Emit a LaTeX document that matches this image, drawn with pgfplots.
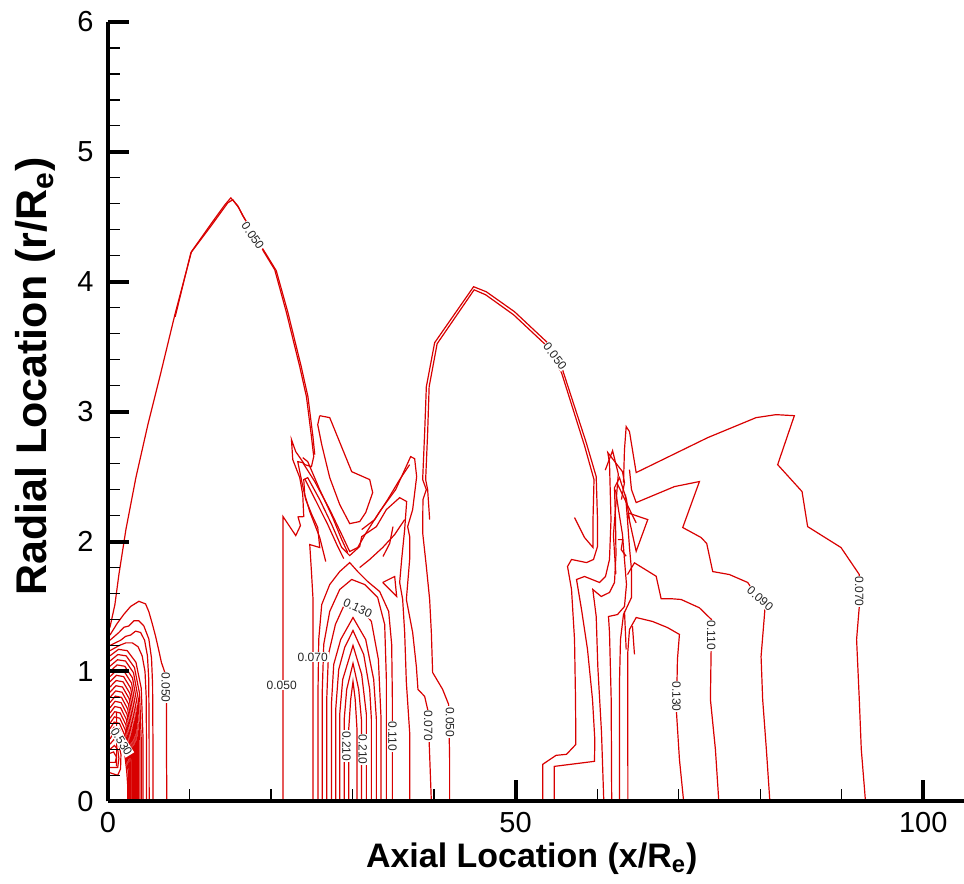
\documentclass[border=0pt]{standalone}
\usepackage{pgfplots}
\pgfplotsset{compat=1.18}
\usepackage{fontspec}
\setmainfont{Liberation Sans}
\definecolor{cred}{RGB}{216,0,0}
\tikzset{cl/.style={cred, line width=0.6pt, mark=none},
  lb/.style={font=\fontsize{6}{6.5}\selectfont, fill=white, inner sep=0.4pt, text=black!85}}
\begin{document}
\begin{tikzpicture}
\useasboundingbox (-54pt,-41pt) rectangle (428.4pt,401pt);
\begin{axis}[
  at={(0,0)}, anchor=south west,
  scale only axis, width=428.4pt, height=390pt,
  xmin=0, xmax=105, ymin=0, ymax=6,
  axis x line*=bottom, axis y line*=left,
  axis line style={line width=2pt, black, -},
  xtick={0,50,100}, minor xtick={10,20,30,40,60,70,80,90},
  ytick={0,1,2,3,4,5,6}, minor y tick num=4,
  tick align=inside, major tick length=10.5pt, minor tick length=6pt,
  every major tick/.append style={line width=2pt, black},
  every minor tick/.append style={line width=0.6pt, black},
  ticklabel style={font=\fontsize{14.5}{16}\selectfont},
  /pgf/number format/assume math mode=true,
  xticklabel style={anchor=north, inner sep=0pt, yshift=-5.5pt},
  yticklabel style={anchor=east, inner sep=0pt, xshift=-7pt},
  xlabel={Axial Location (x/R\textsubscript{e})},
  ylabel={Radial Location (r/R\textsubscript{e})},
  xlabel style={font=\bfseries\fontsize{17}{20}\selectfont, at={(axis description cs:0.495,-0.0846)}, anchor=base},
  ylabel style={font=\bfseries\fontsize{21.5}{24}\selectfont, at={(axis description cs:-0.0712,0.545)}, anchor=base},
  axis on top, clip=false,
]
% ---- region A: dense contours near the origin
\addplot[cl] coordinates {(0.25,1.28) (1.14,1.37) (1.96,1.44) (2.78,1.50) (3.80,1.54) (4.62,1.52) (5.02,1.46) (5.43,1.37) (5.85,1.27) (6.25,1.16) (6.56,1.07) (6.99,0.99) (7.19,0.76) (7.19,0.32) (7.23,0)};
\addplot[cl] coordinates {(0.25,1.24) (1.35,1.30) (1.96,1.34) (2.57,1.35) (3.19,1.39) (3.80,1.39) (4.41,1.35) (5.02,1.25) (5.35,1.10) (5.48,0.90) (5.52,0.5) (5.53,0)};
\addplot[cl] coordinates {(0.25,1.20) (1.56,1.24) (2.17,1.27) (2.78,1.28) (3.39,1.31) (4.01,1.30) (4.50,1.24) (4.85,1.12) (5.00,0.95) (5.05,0.6) (5.06,0)};
\addplot[cl] coordinates {(0.25,1.16) (1.4,1.20) (2.2,1.22) (3.0,1.22) (3.7,1.19) (4.2,1.12) (4.55,1.0) (4.7,0.80) (4.73,0.4) (4.73,0)};
\addplot[cl] coordinates {(0.25,1.12) (1.29,1.17) (2.37,1.16) (3.44,1.07) (4.09,0.87) (4.30,0.50) (4.30,0)};
\addplot[cl] coordinates {(0.25,1.08) (1.22,1.13) (2.24,1.12) (3.26,1.03) (3.88,0.83) (4.08,0.49) (4.08,0)};
\addplot[cl] coordinates {(0.25,1.04) (1.18,1.09) (2.16,1.08) (3.14,0.99) (3.72,0.79) (3.92,0.47) (3.92,0)};
\addplot[cl] coordinates {(0.25,1.00) (1.13,1.05) (2.07,1.04) (3.02,0.95) (3.58,0.75) (3.77,0.45) (3.77,0)};
\addplot[cl] coordinates {(0.25,0.96) (1.09,1.01) (2.00,1.00) (2.90,0.91) (3.45,0.71) (3.63,0.43) (3.63,0)};
\addplot[cl] coordinates {(0.25,0.92) (1.05,0.97) (1.93,0.96) (2.80,0.87) (3.33,0.67) (3.50,0.41) (3.50,0)};
\addplot[cl] coordinates {(0.25,0.88) (1.01,0.93) (1.86,0.92) (2.70,0.83) (3.21,0.63) (3.38,0.40) (3.38,0)};
\addplot[cl] coordinates {(0.25,0.84) (0.98,0.89) (1.79,0.88) (2.61,0.79) (3.10,0.59) (3.26,0.38) (3.26,0)};
\addplot[cl] coordinates {(0.25,0.80) (0.95,0.85) (1.73,0.84) (2.52,0.75) (2.99,0.55) (3.15,0.36) (3.15,0)};
\addplot[cl] coordinates {(0.25,0.76) (0.91,0.81) (1.67,0.80) (2.43,0.71) (2.89,0.51) (3.04,0.34) (3.04,0)};
\addplot[cl] coordinates {(0.25,0.72) (0.88,0.77) (1.62,0.76) (2.35,0.67) (2.79,0.47) (2.94,0.32) (2.94,0)};
\addplot[cl] coordinates {(0.25,0.68) (0.85,0.73) (1.56,0.72) (2.27,0.63) (2.70,0.43) (2.84,0.31) (2.84,0)};
\addplot[cl] coordinates {(0.25,0.64) (0.83,0.69) (1.51,0.68) (2.20,0.59) (2.61,0.39) (2.75,0.29) (2.75,0)};
\addplot[cl] coordinates {(0.25,0.60) (0.80,0.65) (1.46,0.64) (2.13,0.55) (2.53,0.35) (2.66,0.27) (2.66,0)};
\addplot[cl] coordinates {(0.25,0.56) (0.77,0.61) (1.42,0.60) (2.06,0.51) (2.45,0.31) (2.58,0.25) (2.58,0)};
\addplot[cl] coordinates {(0.25,0.52) (0.75,0.57) (1.38,0.56) (2.00,0.47) (2.38,0.27) (2.50,0.23) (2.50,0)};
\addplot[cl] coordinates {(0.25,0.48) (0.73,0.53) (1.34,0.52) (1.94,0.43) (2.31,0.23) (2.43,0.12) (2.43,0)};
\addplot[cl] coordinates {(0.25,0.44) (0.8,0.48) (1.3,0.45) (1.6,0.36) (1.55,0.25) (1.2,0.2) (0.25,0.22)};
\addplot[cl] coordinates {(0.25,0.40) (0.8,0.43) (1.2,0.40) (1.35,0.33) (1.2,0.26) (0.25,0.26)};
\addplot[cl] coordinates {(0.25,0.37) (0.7,0.38) (1.05,0.34) (0.9,0.3) (0.25,0.3)};
\addplot[cl] coordinates {(1.06,0.27) (1.08,0.5) (1.06,0.69)};
% ---- region B: left dome
\addplot[cl] coordinates {(0.245,1.338) (0.858,1.515) (1.348,1.746) (2.206,2.092) (3.431,2.492) (4.902,2.900) (6.373,3.269) (8.211,3.746) (10.257,4.233) (11.275,4.323) (12.745,4.454) (14.338,4.592) (15.074,4.646) (15.931,4.585) (16.544,4.508) (18.015,4.362) (19.118,4.231) (20.466,4.092) (21.900,3.762) (23.529,3.346) (24.350,3.115) (24.963,2.808) (25.245,2.654) (24.963,2.577) (24.142,2.592) (23.039,2.692) (22.512,2.785) (22.672,2.631) (23.529,2.492) (23.897,2.362) (24.020,2.192) (23.321,2.190) (23.615,2.123) (23.039,2.046) (21.483,2.192) (21.483,0)};
\addplot[cl] coordinates {(8.25,3.73) (10.172,4.223) (12.745,4.438) (14.706,4.608) (15.319,4.631) (16.054,4.569) (17.5,4.40) (19.301,4.223) (20.650,4.085) (22.083,3.762) (23.713,3.346) (24.534,3.115) (25.147,2.808) (25.368,2.669)};
% ---- region D: nested arcs and V arms
\addplot[cl] coordinates {(29.534,0) (29.534,0.554) (29.779,0.785) (30.061,0.923) (30.331,0.785) (30.551,0.554) (30.551,0)};
\addplot[cl] coordinates {(28.983,0) (28.983,0.631) (29.289,0.862) (30.061,1.062) (30.760,0.862) (31.091,0.631) (31.091,0)};
\addplot[cl] coordinates {(28.431,0) (28.431,0.669) (28.799,0.938) (30.061,1.2) (31.127,0.977) (31.703,0.669) (31.703,0)};
\addplot[cl] coordinates {(27.941,0) (27.941,0.708) (28.309,1.015) (29.044,1.185) (30.061,1.315) (31.373,1.131) (32.108,0.862) (32.316,0.631) (32.316,0)};
\addplot[cl] coordinates {(27.414,0) (27.414,0.746) (27.696,1.054) (28.554,1.246) (30.061,1.415) (31.618,1.246) (32.598,0.938) (32.929,0.631) (32.929,0)};
\addplot[cl] coordinates {(26.838,0) (26.838,0.785) (27.047,1.131) (27.904,1.362) (29.007,1.515) (30.600,1.515) (32.316,1.385) (33.174,1.092) (33.505,0.631) (33.505,0)};
\addplot[cl] coordinates {(26.299,0) (26.299,0.862) (26.471,1.208) (27.206,1.462) (28.431,1.631) (29.902,1.708) (31.495,1.669) (33.088,1.569) (33.946,1.362) (34.154,0.938) (34.154,0)};
\addplot[cl] coordinates {(25.772,0) (25.772,0.862) (25.858,1.246) (26.225,1.515) (27.206,1.669) (28.431,1.769) (29.657,1.838) (30.637,1.769) (31.863,1.692) (33.333,1.615) (34.436,1.462) (34.804,1.208) (34.890,0.785) (34.890,0)};
\addplot[cl] coordinates {(25.159,0) (25.159,1.554) (24.963,1.769) (24.755,1.977) (25.980,1.954) (25.735,2.108) (25.000,2.208) (24.265,2.323) (23.775,2.462) (23.284,2.615) (23.897,2.608) (25.368,2.462) (27.206,2.246) (28.676,2.054) (29.657,1.923) (30.637,1.954) (31.618,2.062) (33.333,2.231) (35.294,2.400) (37.132,2.654) (37.623,2.638) (37.868,2.500) (37.377,2.246) (36.765,2.115) (37.010,2.038) (37.010,1.862) (36.605,1.554) (37.377,1.300) (37.831,1.038) (38.027,0.862) (38.848,0.808) (39.277,0.692) (39.400,0.462) (39.669,0)};
\addplot[cl] coordinates {(37.010,0) (37.010,0.531) (36.605,0.915) (36.397,1.300) (36.152,1.554) (35.784,1.685) (36.029,1.862) (36.397,2.092) (36.642,2.308) (35.784,2.338) (34.154,2.246) (32.929,2.115) (31.127,2.038) (30.882,1.962) (29.657,1.892) (28.676,1.954) (27.451,2.131) (25.980,2.323) (24.510,2.492) (24.020,2.477) (24.142,2.362) (24.755,2.231) (25.980,2.031) (26.716,1.846)};
\addplot[cl] coordinates {(25.980,2.969) (27.206,2.954) (29.902,2.538) (32.108,2.477) (32.475,2.377) (31.618,2.223) (30.882,2.154) (29.657,2.138) (28.431,2.285) (27.206,2.492) (26.225,2.746) (25.735,2.900) (25.980,2.969)};
\addplot[cl] coordinates {(23.897,2.646) (24.510,2.615) (25.980,2.400) (27.574,2.185) (28.676,2.015) (29.412,1.915)};
\addplot[cl] coordinates {(24.142,2.484) (25.490,2.315) (26.961,2.131) (28.186,1.962) (28.922,1.869)};
\addplot[cl] coordinates {(36.397,2.169) (35.172,2.054) (33.701,1.954) (32.108,1.862) (30.882,1.800)};
\addplot[cl] coordinates {(37.010,2.592) (35.784,2.477) (34.314,2.323) (32.721,2.169) (31.127,2.092)};
\addplot[cl] coordinates {(33.701,1.685) (35.172,1.731) (35.417,1.577) (33.701,1.685)};
\addplot[cl] coordinates {(34.967,2.115) (34.559,1.985) (33.742,1.885)};
% ---- region C: middle dome
\addplot[cl] coordinates {(41.912,0) (41.912,0.323) (41.789,0.746) (41.054,0.862) (39.828,0.992) (39.669,1.300) (39.461,1.554) (39.056,1.808) (38.603,2.069) (38.640,2.323) (39.056,2.400) (38.603,2.477) (38.848,2.838) (39.056,3.192) (40.074,3.531) (44.853,3.962) (46.409,3.923) (49.877,3.769) (53.922,3.531) (55.760,3.323) (58.664,2.762) (59.890,2.500) (60.049,2.169) (60.049,1.962) (59.559,1.862) (58.701,1.838) (56.863,1.862) (56.373,1.808) (56.863,1.631) (57.230,1.246) (57.353,0.785) (57.390,0.438) (56.250,0.362) (54.963,0.354) (53.333,0.285) (53.333,0)};
\addplot[cl] coordinates {(39.461,2.169) (39.216,2.400) (38.971,2.477) (39.216,2.838) (39.400,3.192) (40.380,3.523) (44.914,3.938) (46.324,3.900) (49.755,3.746) (53.799,3.508) (55.637,3.300) (58.456,2.738) (59.620,2.477) (59.498,2.169) (59.498,1.954) (58.456,2.031) (57.230,2.185)};
% ---- region E: right side
\addplot[cl] coordinates {(54.743,0) (54.743,0.269) (59.681,0.308) (59.718,0.477) (59.436,0.785) (58.824,1.169) (58.088,1.477) (57.475,1.708) (58.456,1.731) (60.294,1.685) (61.029,1.731) (61.520,1.862) (61.703,2.169) (61.520,2.608) (61.311,2.685) (63.113,2.538) (63.358,2.454) (62.990,2.323)};
\addplot[cl] coordinates {(60.821,0) (60.539,0.531) (60.086,1.038) (59.890,1.423) (59.473,1.631) (60.502,1.577) (61.520,1.608) (62.132,1.685) (62.316,1.900) (62.255,2.169) (62.132,2.415) (62.745,2.492) (63.603,2.323) (63.971,2.169)};
\addplot[cl] coordinates {(61.789,0) (61.728,0.785) (61.520,1.300) (61.397,1.423) (62.500,1.438) (63.358,1.500) (63.603,1.669) (63.358,1.862) (63.113,2.054) (62.623,2.246) (62.255,2.400)};
\addplot[cl] coordinates {(62.757,0) (62.745,0.915) (62.868,1.246) (63.235,1.438) (64.216,1.569) (64.216,1.785) (63.971,1.954) (63.725,2.169) (63.480,2.362)};
\addplot[cl] coordinates {(63.775,0) (63.762,0.785) (63.762,1.146) (63.971,1.323) (64.792,1.415) (66.789,1.385) (68.627,1.338) (70.098,1.285) (69.853,1.092) (69.730,0.692) (70.098,0.323) (70.613,0)};
\addplot[cl] coordinates {(74.927,0) (74.510,0.400) (73.897,0.785) (73.983,1.154) (74.020,1.400) (72.549,1.490) (70.306,1.554) (69.277,1.559) (67.855,1.559) (67.243,1.733) (64.583,1.836) (63.725,1.746)};
\addplot[cl] coordinates {(81.189,0) (80.760,0.400) (80.306,0.785) (80.110,1.115) (80.600,1.492) (78.468,1.685) (76.225,1.746) (74.179,1.769) (73.444,1.985) (72.757,2.031) (70.502,2.108) (72.549,2.462) (69.485,2.423) (64.792,2.300) (64.216,2.400) (63.971,2.554)};
\addplot[cl] coordinates {(92.917,0) (92.402,0.400) (92.157,0.785) (91.826,1.246) (92.157,1.500) (92.157,1.746) (89.914,1.954) (85.821,2.115) (85.135,2.385) (82.145,2.592) (84.191,2.969) (81.949,2.977) (79.498,2.954) (73.566,2.800) (64.792,2.531) (63.971,2.846) (63.566,2.885) (63.358,2.708) (63.235,2.454)};
\addplot[cl] coordinates {(62.537,2.438) (64.179,2.221) (64.792,2.144)};
\addplot[cl] coordinates {(63.762,2.221) (66.213,2.169) (64.792,1.925) (63.762,2.221)};
\addplot[cl] coordinates {(62.537,2.015) (63.150,2.015) (62.953,1.938) (63.566,1.887)};
\addplot[cl] coordinates {(61.0,2.55) (61.9,2.70) (62.6,2.52) (62.0,2.05) (62.3,1.75)};
\addplot[cl] coordinates {(63.358,1.464) (63.566,1.169)};
\addplot[cl] coordinates {(64.338,1.348) (64.583,1.131)};
% ---- contour labels
\node[lb, rotate=-90] at (axis cs:7.1,0.877) {0.050};
\node[lb, rotate=-58] at (axis cs:1.67,0.46) {0.530};
\node[lb, rotate=-55] at (axis cs:17.77,4.354) {0.050};
\node[lb] at (axis cs:21.32,0.895) {0.050};
\node[lb] at (axis cs:25.12,1.11) {0.070};
\node[lb, rotate=-25] at (axis cs:30.64,1.49) {0.130};
\node[lb, rotate=-90] at (axis cs:29.25,0.425) {0.210};
\node[lb, rotate=-90] at (axis cs:31.27,0.40) {0.210};
\node[lb, rotate=-90] at (axis cs:34.89,0.50) {0.110};
\node[lb, rotate=-90] at (axis cs:39.3,0.58) {0.070};
\node[lb, rotate=-90] at (axis cs:41.95,0.61) {0.050};
\node[lb, rotate=-52] at (axis cs:54.84,3.427) {0.050};
\node[lb, rotate=-90] at (axis cs:69.75,0.808) {0.130};
\node[lb, rotate=-90] at (axis cs:74.0,1.277) {0.110};
\node[lb, rotate=-41] at (axis cs:80.0,1.56) {0.090};
\node[lb, rotate=-90] at (axis cs:92.16,1.615) {0.070};
\end{axis}
\end{tikzpicture}
\end{document}
